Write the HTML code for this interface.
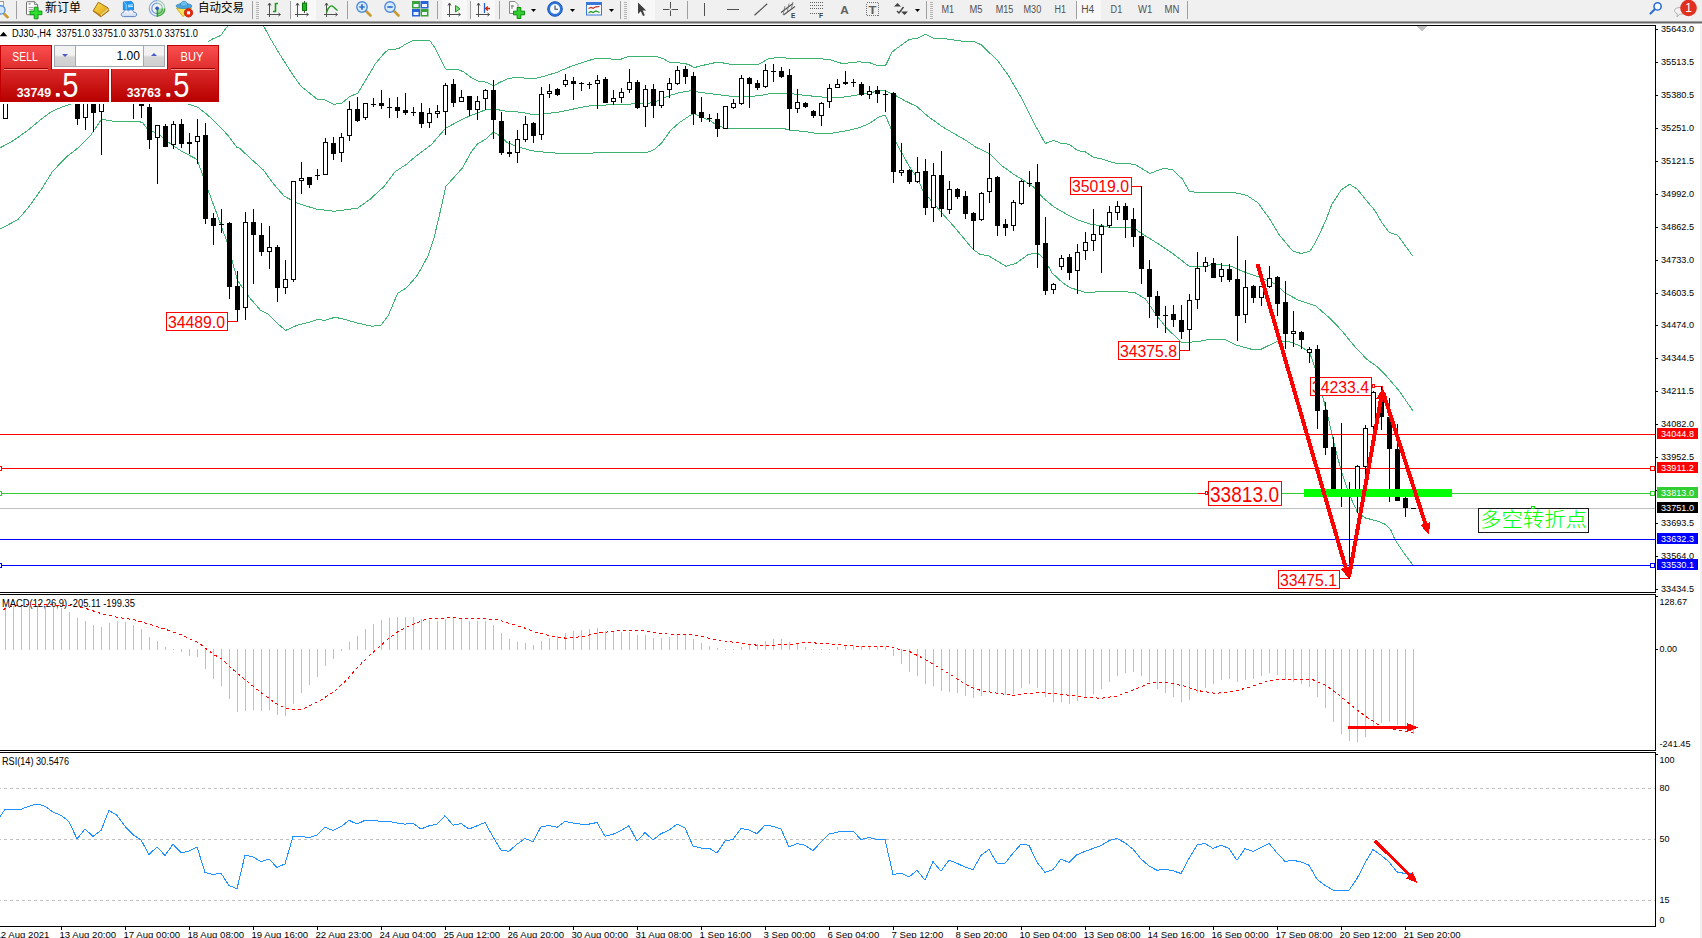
<!DOCTYPE html><html><head><meta charset="utf-8"><title>DJ30 H4</title><style>
html,body{margin:0;padding:0;background:#fff;}
body{width:1702px;height:938px;overflow:hidden;position:relative;font-family:"Liberation Sans","Noto Sans CJK SC",sans-serif;}
svg{position:absolute;left:0;top:0;font-family:"Liberation Sans","Noto Sans CJK SC",sans-serif;}
#chart{z-index:1}
#tbs{z-index:3}
#tp{position:absolute;left:0;top:0;width:230px;height:110px;z-index:4}
#tps{z-index:5}
.wm{position:absolute;left:0;top:43px;width:221px;height:61px;background:#fff}
.wbg{position:absolute;left:52px;top:45px;width:115px;height:24px;background:#fff}
.redl,.redr,.tab{position:absolute;box-sizing:border-box;border:1px solid #c00000;}
.redl{left:0;top:69px;width:109px;height:33px;background:linear-gradient(#dc2a2a,#b80000);border-top:none}
.redr{left:111px;top:69px;width:108px;height:33px;background:linear-gradient(#dc2a2a,#b80000);border-top:none}
.tab.sell{left:0;top:45px;width:52px;height:25px;background:linear-gradient(#fa4e4e,#de2c2c);border-bottom:none}
.tab.buy{left:167px;top:45px;width:52px;height:25px;background:linear-gradient(#fa4e4e,#de2c2c);border-bottom:none}
.spin{position:absolute;left:54px;top:45px;width:111px;height:22px;box-sizing:border-box;border:1px solid #a3a9b3;background:#fff}
.sb{position:absolute;top:0;width:20px;height:20px;background:linear-gradient(#f2f2f2 45%,#d6d6d6 55%,#cfcfcf);}
.sb.l{left:0;border-right:1px solid #a3a9b3}.sb.r{right:0;border-left:1px solid #a3a9b3}
.sb i{position:absolute;left:7px;top:8px;width:0;height:0;border-left:3px solid transparent;border-right:3px solid transparent}
.sb i.dn{border-top:3px solid #4a5ac8}.sb i.up{border-bottom:3px solid #4a5ac8;top:7px}
</style></head><body>
<svg id="chart" width="1702" height="938" viewBox="0 0 1702 938">
<g shape-rendering="crispEdges">
<rect x="0" y="25" width="1656" height="1" fill="#000"/>
<rect x="1655" y="25" width="1" height="568" fill="#000"/>
<rect x="0" y="592" width="1656" height="1" fill="#000"/>
<rect x="0" y="594" width="1656" height="1" fill="#000"/>
<rect x="1655" y="594" width="1" height="157" fill="#000"/>
<rect x="0" y="750" width="1656" height="1" fill="#000"/>
<rect x="0" y="752" width="1656" height="1" fill="#000"/>
<rect x="1655" y="752" width="1" height="175" fill="#000"/>
<rect x="0" y="926" width="1656" height="1" fill="#000"/>
<rect x="1700" y="25" width="2" height="913" fill="#f0f0f0"/>
<polygon points="1416,26 1427,26 1421.5,31.5" fill="#c0c0c0"/>
<rect x="1656" y="29" width="2" height="1" fill="#000"/>
<rect x="1656" y="62" width="2" height="1" fill="#000"/>
<rect x="1656" y="95" width="2" height="1" fill="#000"/>
<rect x="1656" y="128" width="2" height="1" fill="#000"/>
<rect x="1656" y="161" width="2" height="1" fill="#000"/>
<rect x="1656" y="194" width="2" height="1" fill="#000"/>
<rect x="1656" y="227" width="2" height="1" fill="#000"/>
<rect x="1656" y="260" width="2" height="1" fill="#000"/>
<rect x="1656" y="293" width="2" height="1" fill="#000"/>
<rect x="1656" y="325" width="2" height="1" fill="#000"/>
<rect x="1656" y="358" width="2" height="1" fill="#000"/>
<rect x="1656" y="391" width="2" height="1" fill="#000"/>
<rect x="1656" y="424" width="2" height="1" fill="#000"/>
<rect x="1656" y="457" width="2" height="1" fill="#000"/>
<rect x="1656" y="490" width="2" height="1" fill="#000"/>
<rect x="1656" y="523" width="2" height="1" fill="#000"/>
<rect x="1656" y="556" width="2" height="1" fill="#000"/>
<rect x="1656" y="589" width="2" height="1" fill="#000"/>
<rect x="1656" y="649" width="2" height="1" fill="#000"/>
<rect x="1656" y="596" width="2" height="1" fill="#000"/>
<rect x="1656" y="754" width="2" height="1" fill="#000"/>
<rect x="61" y="926" width="1" height="4" fill="#000"/>
<rect x="125" y="926" width="1" height="4" fill="#000"/>
<rect x="189" y="926" width="1" height="4" fill="#000"/>
<rect x="253" y="926" width="1" height="4" fill="#000"/>
<rect x="317" y="926" width="1" height="4" fill="#000"/>
<rect x="381" y="926" width="1" height="4" fill="#000"/>
<rect x="445" y="926" width="1" height="4" fill="#000"/>
<rect x="509" y="926" width="1" height="4" fill="#000"/>
<rect x="573" y="926" width="1" height="4" fill="#000"/>
<rect x="637" y="926" width="1" height="4" fill="#000"/>
<rect x="701" y="926" width="1" height="4" fill="#000"/>
<rect x="765" y="926" width="1" height="4" fill="#000"/>
<rect x="829" y="926" width="1" height="4" fill="#000"/>
<rect x="893" y="926" width="1" height="4" fill="#000"/>
<rect x="957" y="926" width="1" height="4" fill="#000"/>
<rect x="1021" y="926" width="1" height="4" fill="#000"/>
<rect x="1085" y="926" width="1" height="4" fill="#000"/>
<rect x="1149" y="926" width="1" height="4" fill="#000"/>
<rect x="1213" y="926" width="1" height="4" fill="#000"/>
<rect x="1277" y="926" width="1" height="4" fill="#000"/>
<rect x="1341" y="926" width="1" height="4" fill="#000"/>
<rect x="1405" y="926" width="1" height="4" fill="#000"/>
<polyline points="207.5,42.3 211.8,39.3 220.9,35.4 223.8,31.1 227.6,26.0" fill="none" stroke="#3cb371" stroke-width="1"/>
<polyline points="263.6,26.0 270.8,39.3 279.4,53.7 290.9,71.9 300.5,85.8 317.2,99.3 324.4,99.7 333.5,104.4 341.7,103.3 349.8,96.6 358.0,93.0 366.1,79.4 375.2,64.0 384.3,53.1 388.8,49.5 397.9,48.9 406.0,44.0 413.3,40.4 429.6,40.4 435.0,47.7 440.4,58.5 445.5,69.0 458.6,69.8 464.0,72.1 471.3,77.6 478.5,81.2 485.8,82.1 493.6,85.7 500.3,82.1 507.5,78.8 514.8,77.6 520.0,77.5 532.7,79.0 543.6,76.3 556.3,72.6 568.9,67.2 583.4,62.1 597.0,58.1 610.6,59.0 621.5,59.0 628.8,56.3 655.9,56.3 663.2,58.7 669.5,62.3 683.1,63.2 688.6,64.5 694.4,67.6 701.3,65.7 717.6,62.1 724.8,63.2 733.9,65.0 746.6,64.1 750.0,64.5 757.3,65.0 768.1,59.0 779.0,57.2 795.3,59.0 811.6,58.1 829.8,59.6 842.4,63.6 858.8,61.8 869.6,62.7 876.4,65.2 885.7,65.2 892.1,52.1 895.8,49.1 909.3,39.4 917.5,38.2 925.7,34.2 933.1,38.2 945.1,38.7 963.0,41.3 974.2,41.6 980.9,44.6 997.3,60.3 1007.8,74.5 1020.4,96.1 1033.1,121.5 1045.3,143.5 1053.5,140.3 1060.6,143.2 1069.4,144.3 1077.6,150.6 1085.2,151.7 1093.5,157.4 1101.1,158.8 1109.3,161.5 1116.4,163.3 1128.1,163.5 1135.2,164.7 1149.9,173.5 1157.5,170.5 1164.6,168.2 1172.8,170.0 1182.2,178.8 1189.2,191.1 1195.1,192.3 1232.4,192.2 1246.9,195.4 1257.8,202.7 1268.6,217.2 1279.5,235.3 1290.0,247.8 1293.1,251.3 1301.0,253.4 1309.9,251.3 1315.6,242.1 1325.5,221.2 1331.8,204.5 1341.2,189.9 1349.6,184.3 1356.9,188.8 1366.3,200.3 1374.6,210.2 1381.9,222.8 1389.3,232.4 1397.6,235.3 1404.9,245.2 1412.8,256.2" fill="none" stroke="#3cb371" stroke-width="1"/>
<polyline points="0.0,147.9 14.1,140.1 28.2,130.0 42.3,118.3 52.2,111.2 62.0,107.0 70.5,104.2 80.0,100.5" fill="none" stroke="#3cb371" stroke-width="1"/>
<polyline points="180.0,100.5 188.2,104.2 197.4,107.0 207.3,114.7 218.6,125.3 228.4,135.9 236.9,147.2 240.0,148.6 250.0,158.0 263.4,170.0 272.5,182.7 284.3,196.3 297.9,203.5 316.0,209.0 334.1,211.3 357.7,208.1 370.4,199.0 375.2,194.5 384.3,186.3 395.1,171.8 406.0,164.6 416.9,155.5 431.4,144.6 445.5,128.3 460.4,120.2 471.3,115.3 485.8,109.8 493.6,108.9 507.5,111.5 520.0,112.1 534.5,114.9 543.6,113.8 556.3,112.5 572.6,109.2 587.1,106.2 597.9,105.3 614.3,104.7 636.0,103.8 646.9,104.0 657.8,100.7 670.4,95.3 679.5,92.6 690.4,90.8 701.3,92.6 715.8,94.4 730.3,96.2 744.8,96.7 750.0,96.7 760.9,95.3 773.6,93.1 789.9,93.5 804.4,95.3 822.5,97.1 840.6,97.6 855.1,95.3 869.6,92.6 884.1,90.4 893.6,94.4 904.1,100.4 916.8,106.5 927.6,116.1 942.1,126.6 958.4,136.1 965.3,140.0 976.1,147.3 989.5,153.6 1001.5,165.4 1012.4,173.5 1021.4,179.0 1034.1,187.5 1043.2,198.0 1054.1,207.1 1066.8,214.3 1077.6,219.8 1092.1,224.6 1101.6,225.6 1110.3,227.4 1120.0,227.2 1134.5,228.1 1141.6,233.5 1156.3,242.6 1172.6,253.4 1188.9,266.1 1197.9,267.0 1214.3,264.3 1230.6,266.1 1243.3,271.6 1261.4,277.9 1275.9,284.3 1285.5,293.3 1299.4,300.6 1315.8,306.0 1330.3,318.7 1341.2,330.0 1354.6,346.4 1366.6,359.1 1377.0,366.6 1386.0,375.5 1399.4,391.2 1412.8,410.6" fill="none" stroke="#3cb371" stroke-width="1"/>
<polyline points="0.0,229.0 7.0,225.5 18.3,219.1 28.2,207.8 42.3,188.0 52.2,171.8 66.3,157.0 79.0,147.2 90.2,135.9 101.5,119.3 114.2,121.4 138.2,121.4 142.4,122.5 147.3,128.8 153.7,131.9 160.7,135.9 169.2,142.9 181.9,151.4 196.7,159.2 203.0,175.4 207.3,188.1 218.1,217.1 227.2,242.5 232.6,262.4 237.5,280.6 243.5,288.7 248.9,296.9 260.7,310.5 268.0,314.1 276.1,322.3 285.6,330.4 297.9,325.0 308.8,322.3 317.8,319.5 325.1,320.4 335.0,317.2 345.0,319.5 357.7,323.2 372.2,326.2 381.3,325.0 388.5,315.0 397.6,293.3 406.6,287.8 417.5,275.1 428.4,255.2 433.8,238.9 440.0,212.6 444.1,194.5 445.9,186.3 455.0,176.3 462.2,168.2 471.3,151.9 477.6,143.7 485.8,139.2 493.6,131.9 502.1,137.4 507.5,142.8 520.0,147.5 532.7,150.9 547.2,152.4 563.5,153.6 576.2,153.6 601.6,152.7 625.1,152.0 636.0,152.7 646.9,152.4 654.1,149.7 661.4,143.3 670.4,130.6 679.5,122.5 690.4,115.2 693.6,113.4 701.3,117.0 710.3,120.7 717.6,126.1 728.4,128.3 760.0,128.3 782.6,128.3 789.9,130.1 804.4,131.5 818.9,133.7 831.6,133.3 847.9,130.6 858.8,127.9 869.6,123.4 878.7,117.0 885.4,115.2 889.6,125.2 895.0,140.6 901.5,152.4 909.5,166.9 918.1,179.0 923.6,192.6 929.0,198.0 941.5,212.5 954.4,227.0 967.1,242.4 973.4,249.7 979.8,254.2 988.8,256.0 997.9,261.4 1006.0,266.3 1016.0,263.3 1028.7,254.2 1037.8,253.3 1043.2,257.8 1052.3,273.2 1063.1,283.2 1070.4,287.7 1084.9,292.3 1099.4,291.9 1113.9,291.0 1120.0,291.5 1134.5,292.4 1145.4,298.8 1156.3,315.1 1167.1,328.7 1181.6,342.3 1196.1,341.9 1208.8,339.5 1225.1,339.5 1236.0,345.0 1252.3,349.5 1261.4,349.1 1275.9,341.9 1288.6,341.4 1299.4,345.7 1309.6,352.4 1315.8,370.3 1323.3,398.7 1329.3,422.5 1335.2,447.9 1341.2,470.9 1349.4,494.8 1357.6,512.7 1365.1,517.9 1377.0,520.9 1384.5,523.9 1390.4,529.1 1394.9,539.6 1403.9,553.0 1412.8,564.9" fill="none" stroke="#3cb371" stroke-width="1"/>
<rect x="0" y="434" width="1655" height="1" fill="#ff0000"/>
<rect x="0" y="468" width="1655" height="1" fill="#ff0000"/>
<rect x="0" y="493" width="1655" height="1" fill="#32cd32"/>
<rect x="0" y="508" width="1655" height="1" fill="#c0c0c0"/>
<rect x="0" y="539" width="1655" height="1" fill="#0000ff"/>
<rect x="0" y="565" width="1655" height="1" fill="#0000ff"/>
<rect x="1650" y="466" width="5" height="5" fill="#fff" stroke="none"/>
<rect x="1650" y="466" width="5" height="1" fill="#ff0000"/><rect x="1650" y="470" width="5" height="1" fill="#ff0000"/><rect x="1650" y="466" width="1" height="5" fill="#ff0000"/><rect x="1654" y="466" width="1" height="5" fill="#ff0000"/>
<rect x="-3" y="466" width="5" height="5" fill="#fff" stroke="none"/>
<rect x="-3" y="466" width="5" height="1" fill="#ff0000"/><rect x="-3" y="470" width="5" height="1" fill="#ff0000"/><rect x="-3" y="466" width="1" height="5" fill="#ff0000"/><rect x="1" y="466" width="1" height="5" fill="#ff0000"/>
<rect x="1650" y="491" width="5" height="5" fill="#fff" stroke="none"/>
<rect x="1650" y="491" width="5" height="1" fill="#32cd32"/><rect x="1650" y="495" width="5" height="1" fill="#32cd32"/><rect x="1650" y="491" width="1" height="5" fill="#32cd32"/><rect x="1654" y="491" width="1" height="5" fill="#32cd32"/>
<rect x="-3" y="491" width="5" height="5" fill="#fff" stroke="none"/>
<rect x="-3" y="491" width="5" height="1" fill="#32cd32"/><rect x="-3" y="495" width="5" height="1" fill="#32cd32"/><rect x="-3" y="491" width="1" height="5" fill="#32cd32"/><rect x="1" y="491" width="1" height="5" fill="#32cd32"/>
<rect x="1650" y="563" width="5" height="5" fill="#fff" stroke="none"/>
<rect x="1650" y="563" width="5" height="1" fill="#0000ff"/><rect x="1650" y="567" width="5" height="1" fill="#0000ff"/><rect x="1650" y="563" width="1" height="5" fill="#0000ff"/><rect x="1654" y="563" width="1" height="5" fill="#0000ff"/>
<rect x="-3" y="563" width="5" height="5" fill="#fff" stroke="none"/>
<rect x="-3" y="563" width="5" height="1" fill="#0000ff"/><rect x="-3" y="567" width="5" height="1" fill="#0000ff"/><rect x="-3" y="563" width="1" height="5" fill="#0000ff"/><rect x="1" y="563" width="1" height="5" fill="#0000ff"/>
<rect x="166.5" y="312.5" width="61" height="18" fill="#fff" stroke="#ff0000" stroke-width="1" shape-rendering="crispEdges"/>
<text x="168" y="327.5" font-size="17" fill="#ff0000" textLength="57" lengthAdjust="spacingAndGlyphs">34489.0</text>
<polyline points="227,321.5 237.5,321.5 237.5,310" fill="none" stroke="#ff0000" stroke-width="1" shape-rendering="crispEdges"/>
<rect x="1070.5" y="177.5" width="61" height="17" fill="#fff" stroke="#ff0000" stroke-width="1" shape-rendering="crispEdges"/>
<text x="1072" y="191.5" font-size="17" fill="#ff0000" textLength="57" lengthAdjust="spacingAndGlyphs">35019.0</text>
<polyline points="1131,186.5 1141.5,186.5" fill="none" stroke="#ff0000" stroke-width="1" shape-rendering="crispEdges"/>
<rect x="1118.5" y="341.5" width="61" height="18" fill="#fff" stroke="#ff0000" stroke-width="1" shape-rendering="crispEdges"/>
<text x="1120" y="356.5" font-size="17" fill="#ff0000" textLength="57" lengthAdjust="spacingAndGlyphs">34375.8</text>
<polyline points="1179,350.5 1189.5,350.5 1189.5,331" fill="none" stroke="#ff0000" stroke-width="1" shape-rendering="crispEdges"/>
<rect x="1310.5" y="377.5" width="61" height="18" fill="#fff" stroke="#ff0000" stroke-width="1" shape-rendering="crispEdges"/>
<text x="1312" y="392.5" font-size="17" fill="#ff0000" textLength="57" lengthAdjust="spacingAndGlyphs">34233.4</text>
<polyline points="1371,386.5 1382.5,386.5 1382.5,392" fill="none" stroke="#ff0000" stroke-width="1" shape-rendering="crispEdges"/>
<rect x="1278.5" y="570.5" width="61" height="18" fill="#fff" stroke="#ff0000" stroke-width="1" shape-rendering="crispEdges"/>
<text x="1280" y="585.5" font-size="17" fill="#ff0000" textLength="57" lengthAdjust="spacingAndGlyphs">33475.1</text>
<polyline points="1339,578.5 1349.5,578.5" fill="none" stroke="#ff0000" stroke-width="1" shape-rendering="crispEdges"/>
<rect x="1208.5" y="481.5" width="73" height="24" fill="#fff" stroke="#ff0000" stroke-width="1" shape-rendering="crispEdges"/>
<text x="1210" y="501.8" font-size="22" fill="#ff0000" textLength="69" lengthAdjust="spacingAndGlyphs">33813.0</text>
<rect x="1198" y="493" width="8" height="1" fill="#ff0000" shape-rendering="crispEdges"/>
<rect x="1205.5" y="491.5" width="2" height="3" fill="#fff" stroke="#ff0000" stroke-width="1" shape-rendering="crispEdges"/>
<rect x="1372.5" y="384.5" width="2" height="3" fill="#fff" stroke="#ff0000" stroke-width="1" shape-rendering="crispEdges"/>
<rect x="5" y="60" width="1" height="59" fill="#000"/>
<rect x="3" y="60" width="5" height="59" fill="#000"/>
<rect x="4" y="61" width="3" height="57" fill="#fff"/>
<rect x="77" y="60" width="1" height="65" fill="#000"/>
<rect x="75" y="60" width="5" height="59" fill="#000"/>
<rect x="85" y="60" width="1" height="70" fill="#000"/>
<rect x="83" y="60" width="5" height="58" fill="#000"/>
<rect x="84" y="61" width="3" height="56" fill="#fff"/>
<rect x="93" y="60" width="1" height="72" fill="#000"/>
<rect x="91" y="60" width="5" height="53" fill="#000"/>
<rect x="101" y="60" width="1" height="95" fill="#000"/>
<rect x="99" y="60" width="5" height="52" fill="#000"/>
<rect x="100" y="61" width="3" height="50" fill="#fff"/>
<rect x="133" y="60" width="1" height="59" fill="#000"/>
<rect x="131" y="60" width="5" height="1" fill="#000"/>
<rect x="141" y="60" width="1" height="58" fill="#000"/>
<rect x="139" y="60" width="5" height="46" fill="#000"/>
<rect x="149" y="60" width="1" height="89" fill="#000"/>
<rect x="147" y="107" width="5" height="33" fill="#000"/>
<rect x="157" y="125" width="1" height="59" fill="#000"/>
<rect x="155" y="125" width="5" height="13" fill="#000"/>
<rect x="156" y="126" width="3" height="11" fill="#fff"/>
<rect x="165" y="124" width="1" height="23" fill="#000"/>
<rect x="163" y="126" width="5" height="21" fill="#000"/>
<rect x="173" y="121" width="1" height="28" fill="#000"/>
<rect x="171" y="124" width="5" height="21" fill="#000"/>
<rect x="172" y="125" width="3" height="19" fill="#fff"/>
<rect x="181" y="119" width="1" height="29" fill="#000"/>
<rect x="179" y="124" width="5" height="20" fill="#000"/>
<rect x="189" y="133" width="1" height="21" fill="#000"/>
<rect x="187" y="142" width="5" height="2" fill="#000"/>
<rect x="197" y="119" width="1" height="45" fill="#000"/>
<rect x="195" y="136" width="5" height="6" fill="#000"/>
<rect x="196" y="137" width="3" height="4" fill="#fff"/>
<rect x="205" y="123" width="1" height="101" fill="#000"/>
<rect x="203" y="135" width="5" height="84" fill="#000"/>
<rect x="213" y="213" width="1" height="32" fill="#000"/>
<rect x="211" y="218" width="5" height="8" fill="#000"/>
<rect x="221" y="209" width="1" height="24" fill="#000"/>
<rect x="219" y="224" width="5" height="1" fill="#000"/>
<rect x="229" y="222" width="1" height="77" fill="#000"/>
<rect x="227" y="223" width="5" height="64" fill="#000"/>
<rect x="237" y="271" width="1" height="50" fill="#000"/>
<rect x="235" y="286" width="5" height="24" fill="#000"/>
<rect x="245" y="212" width="1" height="108" fill="#000"/>
<rect x="243" y="222" width="5" height="86" fill="#000"/>
<rect x="244" y="223" width="3" height="84" fill="#fff"/>
<rect x="253" y="209" width="1" height="75" fill="#000"/>
<rect x="251" y="222" width="5" height="13" fill="#000"/>
<rect x="261" y="223" width="1" height="33" fill="#000"/>
<rect x="259" y="235" width="5" height="17" fill="#000"/>
<rect x="269" y="226" width="1" height="43" fill="#000"/>
<rect x="267" y="247" width="5" height="5" fill="#000"/>
<rect x="268" y="248" width="3" height="3" fill="#fff"/>
<rect x="277" y="245" width="1" height="57" fill="#000"/>
<rect x="275" y="247" width="5" height="41" fill="#000"/>
<rect x="285" y="260" width="1" height="34" fill="#000"/>
<rect x="283" y="279" width="5" height="9" fill="#000"/>
<rect x="284" y="280" width="3" height="7" fill="#fff"/>
<rect x="293" y="181" width="1" height="101" fill="#000"/>
<rect x="291" y="181" width="5" height="99" fill="#000"/>
<rect x="292" y="182" width="3" height="97" fill="#fff"/>
<rect x="301" y="162" width="1" height="32" fill="#000"/>
<rect x="299" y="178" width="5" height="3" fill="#000"/>
<rect x="300" y="179" width="3" height="1" fill="#fff"/>
<rect x="309" y="177" width="1" height="11" fill="#000"/>
<rect x="307" y="177" width="5" height="8" fill="#000"/>
<rect x="317" y="169" width="1" height="11" fill="#000"/>
<rect x="315" y="175" width="5" height="1" fill="#000"/>
<rect x="325" y="138" width="1" height="37" fill="#000"/>
<rect x="323" y="142" width="5" height="33" fill="#000"/>
<rect x="324" y="143" width="3" height="31" fill="#fff"/>
<rect x="333" y="137" width="1" height="23" fill="#000"/>
<rect x="331" y="143" width="5" height="11" fill="#000"/>
<rect x="341" y="133" width="1" height="29" fill="#000"/>
<rect x="339" y="137" width="5" height="16" fill="#000"/>
<rect x="340" y="138" width="3" height="14" fill="#fff"/>
<rect x="349" y="101" width="1" height="40" fill="#000"/>
<rect x="347" y="109" width="5" height="27" fill="#000"/>
<rect x="348" y="110" width="3" height="25" fill="#fff"/>
<rect x="357" y="97" width="1" height="25" fill="#000"/>
<rect x="355" y="109" width="5" height="12" fill="#000"/>
<rect x="365" y="103" width="1" height="17" fill="#000"/>
<rect x="363" y="103" width="5" height="15" fill="#000"/>
<rect x="364" y="104" width="3" height="13" fill="#fff"/>
<rect x="373" y="98" width="1" height="9" fill="#000"/>
<rect x="371" y="104" width="5" height="1" fill="#000"/>
<rect x="381" y="90" width="1" height="19" fill="#000"/>
<rect x="379" y="103" width="5" height="3" fill="#000"/>
<rect x="389" y="98" width="1" height="20" fill="#000"/>
<rect x="387" y="107" width="5" height="1" fill="#000"/>
<rect x="397" y="97" width="1" height="21" fill="#000"/>
<rect x="395" y="107" width="5" height="4" fill="#000"/>
<rect x="405" y="93" width="1" height="22" fill="#000"/>
<rect x="403" y="110" width="5" height="3" fill="#000"/>
<rect x="413" y="107" width="1" height="9" fill="#000"/>
<rect x="411" y="112" width="5" height="1" fill="#000"/>
<rect x="421" y="103" width="1" height="25" fill="#000"/>
<rect x="419" y="112" width="5" height="12" fill="#000"/>
<rect x="429" y="108" width="1" height="20" fill="#000"/>
<rect x="427" y="113" width="5" height="10" fill="#000"/>
<rect x="428" y="114" width="3" height="8" fill="#fff"/>
<rect x="437" y="105" width="1" height="13" fill="#000"/>
<rect x="435" y="111" width="5" height="3" fill="#000"/>
<rect x="436" y="112" width="3" height="1" fill="#fff"/>
<rect x="445" y="83" width="1" height="52" fill="#000"/>
<rect x="443" y="85" width="5" height="27" fill="#000"/>
<rect x="444" y="86" width="3" height="25" fill="#fff"/>
<rect x="453" y="79" width="1" height="28" fill="#000"/>
<rect x="451" y="84" width="5" height="19" fill="#000"/>
<rect x="461" y="90" width="1" height="12" fill="#000"/>
<rect x="459" y="97" width="5" height="5" fill="#000"/>
<rect x="460" y="98" width="3" height="3" fill="#fff"/>
<rect x="469" y="96" width="1" height="20" fill="#000"/>
<rect x="467" y="96" width="5" height="14" fill="#000"/>
<rect x="477" y="96" width="1" height="24" fill="#000"/>
<rect x="475" y="101" width="5" height="9" fill="#000"/>
<rect x="476" y="102" width="3" height="7" fill="#fff"/>
<rect x="485" y="89" width="1" height="21" fill="#000"/>
<rect x="483" y="90" width="5" height="9" fill="#000"/>
<rect x="484" y="91" width="3" height="7" fill="#fff"/>
<rect x="493" y="80" width="1" height="59" fill="#000"/>
<rect x="491" y="90" width="5" height="30" fill="#000"/>
<rect x="501" y="112" width="1" height="43" fill="#000"/>
<rect x="499" y="121" width="5" height="32" fill="#000"/>
<rect x="509" y="141" width="1" height="16" fill="#000"/>
<rect x="507" y="152" width="5" height="2" fill="#000"/>
<rect x="517" y="130" width="1" height="33" fill="#000"/>
<rect x="515" y="139" width="5" height="14" fill="#000"/>
<rect x="516" y="140" width="3" height="12" fill="#fff"/>
<rect x="525" y="116" width="1" height="26" fill="#000"/>
<rect x="523" y="124" width="5" height="16" fill="#000"/>
<rect x="524" y="125" width="3" height="14" fill="#fff"/>
<rect x="533" y="122" width="1" height="21" fill="#000"/>
<rect x="531" y="123" width="5" height="13" fill="#000"/>
<rect x="541" y="87" width="1" height="53" fill="#000"/>
<rect x="539" y="94" width="5" height="41" fill="#000"/>
<rect x="540" y="95" width="3" height="39" fill="#fff"/>
<rect x="549" y="84" width="1" height="14" fill="#000"/>
<rect x="547" y="91" width="5" height="3" fill="#000"/>
<rect x="548" y="92" width="3" height="1" fill="#fff"/>
<rect x="557" y="88" width="1" height="8" fill="#000"/>
<rect x="555" y="89" width="5" height="6" fill="#000"/>
<rect x="565" y="74" width="1" height="13" fill="#000"/>
<rect x="563" y="80" width="5" height="5" fill="#000"/>
<rect x="564" y="81" width="3" height="3" fill="#fff"/>
<rect x="573" y="77" width="1" height="23" fill="#000"/>
<rect x="571" y="81" width="5" height="3" fill="#000"/>
<rect x="581" y="82" width="1" height="9" fill="#000"/>
<rect x="579" y="83" width="5" height="1" fill="#000"/>
<rect x="589" y="82" width="1" height="7" fill="#000"/>
<rect x="587" y="84" width="5" height="1" fill="#000"/>
<rect x="597" y="75" width="1" height="34" fill="#000"/>
<rect x="595" y="80" width="5" height="4" fill="#000"/>
<rect x="596" y="81" width="3" height="2" fill="#fff"/>
<rect x="605" y="77" width="1" height="26" fill="#000"/>
<rect x="603" y="79" width="5" height="24" fill="#000"/>
<rect x="613" y="90" width="1" height="15" fill="#000"/>
<rect x="611" y="98" width="5" height="4" fill="#000"/>
<rect x="612" y="99" width="3" height="2" fill="#fff"/>
<rect x="621" y="88" width="1" height="15" fill="#000"/>
<rect x="619" y="92" width="5" height="6" fill="#000"/>
<rect x="620" y="93" width="3" height="4" fill="#fff"/>
<rect x="629" y="69" width="1" height="24" fill="#000"/>
<rect x="627" y="82" width="5" height="8" fill="#000"/>
<rect x="628" y="83" width="3" height="6" fill="#fff"/>
<rect x="637" y="80" width="1" height="29" fill="#000"/>
<rect x="635" y="82" width="5" height="26" fill="#000"/>
<rect x="645" y="85" width="1" height="42" fill="#000"/>
<rect x="643" y="89" width="5" height="18" fill="#000"/>
<rect x="644" y="90" width="3" height="16" fill="#fff"/>
<rect x="653" y="84" width="1" height="34" fill="#000"/>
<rect x="651" y="89" width="5" height="17" fill="#000"/>
<rect x="661" y="91" width="1" height="17" fill="#000"/>
<rect x="659" y="91" width="5" height="15" fill="#000"/>
<rect x="660" y="92" width="3" height="13" fill="#fff"/>
<rect x="669" y="78" width="1" height="20" fill="#000"/>
<rect x="667" y="83" width="5" height="7" fill="#000"/>
<rect x="668" y="84" width="3" height="5" fill="#fff"/>
<rect x="677" y="66" width="1" height="19" fill="#000"/>
<rect x="675" y="70" width="5" height="14" fill="#000"/>
<rect x="676" y="71" width="3" height="12" fill="#fff"/>
<rect x="685" y="66" width="1" height="18" fill="#000"/>
<rect x="683" y="69" width="5" height="8" fill="#000"/>
<rect x="693" y="72" width="1" height="53" fill="#000"/>
<rect x="691" y="76" width="5" height="38" fill="#000"/>
<rect x="701" y="97" width="1" height="25" fill="#000"/>
<rect x="699" y="112" width="5" height="6" fill="#000"/>
<rect x="709" y="114" width="1" height="8" fill="#000"/>
<rect x="707" y="118" width="5" height="1" fill="#000"/>
<rect x="717" y="113" width="1" height="24" fill="#000"/>
<rect x="715" y="119" width="5" height="10" fill="#000"/>
<rect x="725" y="106" width="1" height="23" fill="#000"/>
<rect x="723" y="106" width="5" height="23" fill="#000"/>
<rect x="724" y="107" width="3" height="21" fill="#fff"/>
<rect x="733" y="99" width="1" height="10" fill="#000"/>
<rect x="731" y="103" width="5" height="5" fill="#000"/>
<rect x="732" y="104" width="3" height="3" fill="#fff"/>
<rect x="741" y="75" width="1" height="30" fill="#000"/>
<rect x="739" y="78" width="5" height="26" fill="#000"/>
<rect x="740" y="79" width="3" height="24" fill="#fff"/>
<rect x="749" y="77" width="1" height="31" fill="#000"/>
<rect x="747" y="78" width="5" height="6" fill="#000"/>
<rect x="757" y="80" width="1" height="10" fill="#000"/>
<rect x="755" y="83" width="5" height="5" fill="#000"/>
<rect x="765" y="64" width="1" height="24" fill="#000"/>
<rect x="763" y="70" width="5" height="17" fill="#000"/>
<rect x="764" y="71" width="3" height="15" fill="#fff"/>
<rect x="773" y="64" width="1" height="18" fill="#000"/>
<rect x="771" y="71" width="5" height="1" fill="#000"/>
<rect x="781" y="67" width="1" height="11" fill="#000"/>
<rect x="779" y="71" width="5" height="6" fill="#000"/>
<rect x="789" y="69" width="1" height="61" fill="#000"/>
<rect x="787" y="75" width="5" height="34" fill="#000"/>
<rect x="797" y="89" width="1" height="24" fill="#000"/>
<rect x="795" y="102" width="5" height="7" fill="#000"/>
<rect x="796" y="103" width="3" height="5" fill="#fff"/>
<rect x="805" y="102" width="1" height="6" fill="#000"/>
<rect x="803" y="103" width="5" height="4" fill="#000"/>
<rect x="813" y="110" width="1" height="8" fill="#000"/>
<rect x="811" y="111" width="5" height="5" fill="#000"/>
<rect x="821" y="102" width="1" height="24" fill="#000"/>
<rect x="819" y="103" width="5" height="13" fill="#000"/>
<rect x="820" y="104" width="3" height="11" fill="#fff"/>
<rect x="829" y="84" width="1" height="24" fill="#000"/>
<rect x="827" y="88" width="5" height="14" fill="#000"/>
<rect x="828" y="89" width="3" height="12" fill="#fff"/>
<rect x="837" y="79" width="1" height="9" fill="#000"/>
<rect x="835" y="84" width="5" height="4" fill="#000"/>
<rect x="836" y="85" width="3" height="2" fill="#fff"/>
<rect x="845" y="71" width="1" height="14" fill="#000"/>
<rect x="843" y="82" width="5" height="2" fill="#000"/>
<rect x="853" y="79" width="1" height="8" fill="#000"/>
<rect x="851" y="82" width="5" height="1" fill="#000"/>
<rect x="861" y="82" width="1" height="14" fill="#000"/>
<rect x="859" y="84" width="5" height="11" fill="#000"/>
<rect x="869" y="86" width="1" height="13" fill="#000"/>
<rect x="867" y="91" width="5" height="4" fill="#000"/>
<rect x="868" y="92" width="3" height="2" fill="#fff"/>
<rect x="877" y="86" width="1" height="17" fill="#000"/>
<rect x="875" y="90" width="5" height="4" fill="#000"/>
<rect x="885" y="90" width="1" height="22" fill="#000"/>
<rect x="883" y="94" width="5" height="1" fill="#000"/>
<rect x="893" y="92" width="1" height="91" fill="#000"/>
<rect x="891" y="93" width="5" height="79" fill="#000"/>
<rect x="901" y="143" width="1" height="33" fill="#000"/>
<rect x="899" y="170" width="5" height="3" fill="#000"/>
<rect x="900" y="171" width="3" height="1" fill="#fff"/>
<rect x="909" y="169" width="1" height="15" fill="#000"/>
<rect x="907" y="170" width="5" height="12" fill="#000"/>
<rect x="917" y="157" width="1" height="26" fill="#000"/>
<rect x="915" y="172" width="5" height="10" fill="#000"/>
<rect x="916" y="173" width="3" height="8" fill="#fff"/>
<rect x="925" y="159" width="1" height="56" fill="#000"/>
<rect x="923" y="171" width="5" height="37" fill="#000"/>
<rect x="933" y="163" width="1" height="59" fill="#000"/>
<rect x="931" y="175" width="5" height="33" fill="#000"/>
<rect x="932" y="176" width="3" height="31" fill="#fff"/>
<rect x="941" y="151" width="1" height="66" fill="#000"/>
<rect x="939" y="175" width="5" height="34" fill="#000"/>
<rect x="949" y="181" width="1" height="33" fill="#000"/>
<rect x="947" y="189" width="5" height="21" fill="#000"/>
<rect x="948" y="190" width="3" height="19" fill="#fff"/>
<rect x="957" y="188" width="1" height="11" fill="#000"/>
<rect x="955" y="189" width="5" height="8" fill="#000"/>
<rect x="965" y="191" width="1" height="28" fill="#000"/>
<rect x="963" y="196" width="5" height="18" fill="#000"/>
<rect x="973" y="212" width="1" height="38" fill="#000"/>
<rect x="971" y="213" width="5" height="8" fill="#000"/>
<rect x="981" y="192" width="1" height="29" fill="#000"/>
<rect x="979" y="193" width="5" height="27" fill="#000"/>
<rect x="980" y="194" width="3" height="25" fill="#fff"/>
<rect x="989" y="143" width="1" height="60" fill="#000"/>
<rect x="987" y="178" width="5" height="14" fill="#000"/>
<rect x="988" y="179" width="3" height="12" fill="#fff"/>
<rect x="997" y="176" width="1" height="60" fill="#000"/>
<rect x="995" y="177" width="5" height="49" fill="#000"/>
<rect x="1005" y="219" width="1" height="17" fill="#000"/>
<rect x="1003" y="224" width="5" height="4" fill="#000"/>
<rect x="1013" y="200" width="1" height="31" fill="#000"/>
<rect x="1011" y="202" width="5" height="24" fill="#000"/>
<rect x="1012" y="203" width="3" height="22" fill="#fff"/>
<rect x="1021" y="180" width="1" height="25" fill="#000"/>
<rect x="1019" y="181" width="5" height="23" fill="#000"/>
<rect x="1020" y="182" width="3" height="21" fill="#fff"/>
<rect x="1029" y="171" width="1" height="16" fill="#000"/>
<rect x="1027" y="183" width="5" height="1" fill="#000"/>
<rect x="1037" y="164" width="1" height="104" fill="#000"/>
<rect x="1035" y="182" width="5" height="63" fill="#000"/>
<rect x="1045" y="217" width="1" height="78" fill="#000"/>
<rect x="1043" y="243" width="5" height="48" fill="#000"/>
<rect x="1053" y="283" width="1" height="11" fill="#000"/>
<rect x="1051" y="284" width="5" height="6" fill="#000"/>
<rect x="1052" y="285" width="3" height="4" fill="#fff"/>
<rect x="1061" y="255" width="1" height="15" fill="#000"/>
<rect x="1059" y="258" width="5" height="9" fill="#000"/>
<rect x="1060" y="259" width="3" height="7" fill="#fff"/>
<rect x="1069" y="254" width="1" height="26" fill="#000"/>
<rect x="1067" y="257" width="5" height="16" fill="#000"/>
<rect x="1077" y="244" width="1" height="50" fill="#000"/>
<rect x="1075" y="252" width="5" height="19" fill="#000"/>
<rect x="1076" y="253" width="3" height="17" fill="#fff"/>
<rect x="1085" y="232" width="1" height="28" fill="#000"/>
<rect x="1083" y="242" width="5" height="9" fill="#000"/>
<rect x="1084" y="243" width="3" height="7" fill="#fff"/>
<rect x="1093" y="209" width="1" height="42" fill="#000"/>
<rect x="1091" y="234" width="5" height="7" fill="#000"/>
<rect x="1092" y="235" width="3" height="5" fill="#fff"/>
<rect x="1101" y="224" width="1" height="49" fill="#000"/>
<rect x="1099" y="226" width="5" height="9" fill="#000"/>
<rect x="1100" y="227" width="3" height="7" fill="#fff"/>
<rect x="1109" y="206" width="1" height="22" fill="#000"/>
<rect x="1107" y="212" width="5" height="14" fill="#000"/>
<rect x="1108" y="213" width="3" height="12" fill="#fff"/>
<rect x="1117" y="201" width="1" height="19" fill="#000"/>
<rect x="1115" y="206" width="5" height="7" fill="#000"/>
<rect x="1116" y="207" width="3" height="5" fill="#fff"/>
<rect x="1125" y="203" width="1" height="35" fill="#000"/>
<rect x="1123" y="206" width="5" height="14" fill="#000"/>
<rect x="1133" y="208" width="1" height="39" fill="#000"/>
<rect x="1131" y="219" width="5" height="18" fill="#000"/>
<rect x="1141" y="186" width="1" height="98" fill="#000"/>
<rect x="1139" y="236" width="5" height="33" fill="#000"/>
<rect x="1149" y="260" width="1" height="58" fill="#000"/>
<rect x="1147" y="269" width="5" height="28" fill="#000"/>
<rect x="1157" y="291" width="1" height="37" fill="#000"/>
<rect x="1155" y="296" width="5" height="20" fill="#000"/>
<rect x="1165" y="306" width="1" height="27" fill="#000"/>
<rect x="1163" y="315" width="5" height="1" fill="#000"/>
<rect x="1173" y="305" width="1" height="22" fill="#000"/>
<rect x="1171" y="314" width="5" height="6" fill="#000"/>
<rect x="1181" y="305" width="1" height="34" fill="#000"/>
<rect x="1179" y="320" width="5" height="12" fill="#000"/>
<rect x="1189" y="294" width="1" height="56" fill="#000"/>
<rect x="1187" y="300" width="5" height="30" fill="#000"/>
<rect x="1188" y="301" width="3" height="28" fill="#fff"/>
<rect x="1197" y="252" width="1" height="57" fill="#000"/>
<rect x="1195" y="268" width="5" height="32" fill="#000"/>
<rect x="1196" y="269" width="3" height="30" fill="#fff"/>
<rect x="1205" y="257" width="1" height="15" fill="#000"/>
<rect x="1203" y="262" width="5" height="5" fill="#000"/>
<rect x="1204" y="263" width="3" height="3" fill="#fff"/>
<rect x="1213" y="258" width="1" height="20" fill="#000"/>
<rect x="1211" y="263" width="5" height="15" fill="#000"/>
<rect x="1221" y="263" width="1" height="19" fill="#000"/>
<rect x="1219" y="269" width="5" height="8" fill="#000"/>
<rect x="1220" y="270" width="3" height="6" fill="#fff"/>
<rect x="1229" y="264" width="1" height="18" fill="#000"/>
<rect x="1227" y="269" width="5" height="11" fill="#000"/>
<rect x="1237" y="236" width="1" height="105" fill="#000"/>
<rect x="1235" y="279" width="5" height="37" fill="#000"/>
<rect x="1245" y="260" width="1" height="63" fill="#000"/>
<rect x="1243" y="287" width="5" height="28" fill="#000"/>
<rect x="1244" y="288" width="3" height="26" fill="#fff"/>
<rect x="1253" y="285" width="1" height="18" fill="#000"/>
<rect x="1251" y="286" width="5" height="12" fill="#000"/>
<rect x="1261" y="286" width="1" height="20" fill="#000"/>
<rect x="1259" y="286" width="5" height="12" fill="#000"/>
<rect x="1260" y="287" width="3" height="10" fill="#fff"/>
<rect x="1269" y="266" width="1" height="22" fill="#000"/>
<rect x="1267" y="278" width="5" height="9" fill="#000"/>
<rect x="1268" y="279" width="3" height="7" fill="#fff"/>
<rect x="1277" y="276" width="1" height="40" fill="#000"/>
<rect x="1275" y="277" width="5" height="27" fill="#000"/>
<rect x="1285" y="281" width="1" height="68" fill="#000"/>
<rect x="1283" y="302" width="5" height="32" fill="#000"/>
<rect x="1293" y="311" width="1" height="36" fill="#000"/>
<rect x="1291" y="331" width="5" height="3" fill="#000"/>
<rect x="1292" y="332" width="3" height="1" fill="#fff"/>
<rect x="1301" y="331" width="1" height="18" fill="#000"/>
<rect x="1299" y="332" width="5" height="8" fill="#000"/>
<rect x="1309" y="347" width="1" height="16" fill="#000"/>
<rect x="1307" y="349" width="5" height="4" fill="#000"/>
<rect x="1308" y="350" width="3" height="2" fill="#fff"/>
<rect x="1317" y="345" width="1" height="84" fill="#000"/>
<rect x="1315" y="349" width="5" height="62" fill="#000"/>
<rect x="1325" y="402" width="1" height="53" fill="#000"/>
<rect x="1323" y="410" width="5" height="38" fill="#000"/>
<rect x="1333" y="437" width="1" height="59" fill="#000"/>
<rect x="1331" y="447" width="5" height="49" fill="#000"/>
<rect x="1341" y="423" width="1" height="84" fill="#000"/>
<rect x="1339" y="493" width="5" height="2" fill="#000"/>
<rect x="1349" y="482" width="1" height="97" fill="#000"/>
<rect x="1347" y="492" width="5" height="3" fill="#000"/>
<rect x="1357" y="465" width="1" height="48" fill="#000"/>
<rect x="1355" y="466" width="5" height="28" fill="#000"/>
<rect x="1356" y="467" width="3" height="26" fill="#fff"/>
<rect x="1365" y="425" width="1" height="49" fill="#000"/>
<rect x="1363" y="428" width="5" height="39" fill="#000"/>
<rect x="1364" y="429" width="3" height="37" fill="#fff"/>
<rect x="1373" y="391" width="1" height="44" fill="#000"/>
<rect x="1371" y="392" width="5" height="35" fill="#000"/>
<rect x="1372" y="393" width="3" height="33" fill="#fff"/>
<rect x="1381" y="386" width="1" height="44" fill="#000"/>
<rect x="1379" y="393" width="5" height="24" fill="#000"/>
<rect x="1389" y="398" width="1" height="104" fill="#000"/>
<rect x="1387" y="417" width="5" height="32" fill="#000"/>
<rect x="1397" y="424" width="1" height="77" fill="#000"/>
<rect x="1395" y="449" width="5" height="52" fill="#000"/>
<rect x="1405" y="497" width="1" height="20" fill="#000"/>
<rect x="1403" y="498" width="5" height="10" fill="#000"/>
<rect x="1411" y="508" width="5" height="1" fill="#000"/>
<rect x="1304" y="489" width="148" height="8" fill="#00ff00"/>
<rect x="5" y="607" width="1" height="43" fill="#c0c0c0"/>
<rect x="13" y="606" width="1" height="44" fill="#c0c0c0"/>
<rect x="21" y="606" width="1" height="44" fill="#c0c0c0"/>
<rect x="29" y="606" width="1" height="44" fill="#c0c0c0"/>
<rect x="37" y="606" width="1" height="44" fill="#c0c0c0"/>
<rect x="45" y="606" width="1" height="44" fill="#c0c0c0"/>
<rect x="53" y="607" width="1" height="43" fill="#c0c0c0"/>
<rect x="61" y="608" width="1" height="42" fill="#c0c0c0"/>
<rect x="69" y="612" width="1" height="38" fill="#c0c0c0"/>
<rect x="77" y="618" width="1" height="32" fill="#c0c0c0"/>
<rect x="85" y="621" width="1" height="29" fill="#c0c0c0"/>
<rect x="93" y="625" width="1" height="25" fill="#c0c0c0"/>
<rect x="101" y="627" width="1" height="23" fill="#c0c0c0"/>
<rect x="109" y="623" width="1" height="27" fill="#c0c0c0"/>
<rect x="117" y="621" width="1" height="29" fill="#c0c0c0"/>
<rect x="125" y="622" width="1" height="28" fill="#c0c0c0"/>
<rect x="133" y="625" width="1" height="25" fill="#c0c0c0"/>
<rect x="141" y="629" width="1" height="21" fill="#c0c0c0"/>
<rect x="149" y="637" width="1" height="13" fill="#c0c0c0"/>
<rect x="157" y="641" width="1" height="9" fill="#c0c0c0"/>
<rect x="165" y="647" width="1" height="3" fill="#c0c0c0"/>
<rect x="173" y="649" width="1" height="1" fill="#c0c0c0"/>
<rect x="181" y="649" width="1" height="3" fill="#c0c0c0"/>
<rect x="189" y="649" width="1" height="7" fill="#c0c0c0"/>
<rect x="197" y="649" width="1" height="8" fill="#c0c0c0"/>
<rect x="205" y="649" width="1" height="20" fill="#c0c0c0"/>
<rect x="213" y="649" width="1" height="30" fill="#c0c0c0"/>
<rect x="221" y="649" width="1" height="37" fill="#c0c0c0"/>
<rect x="229" y="649" width="1" height="50" fill="#c0c0c0"/>
<rect x="237" y="649" width="1" height="63" fill="#c0c0c0"/>
<rect x="245" y="649" width="1" height="62" fill="#c0c0c0"/>
<rect x="253" y="649" width="1" height="61" fill="#c0c0c0"/>
<rect x="261" y="649" width="1" height="62" fill="#c0c0c0"/>
<rect x="269" y="649" width="1" height="61" fill="#c0c0c0"/>
<rect x="277" y="649" width="1" height="66" fill="#c0c0c0"/>
<rect x="285" y="649" width="1" height="67" fill="#c0c0c0"/>
<rect x="293" y="649" width="1" height="55" fill="#c0c0c0"/>
<rect x="301" y="649" width="1" height="44" fill="#c0c0c0"/>
<rect x="309" y="649" width="1" height="36" fill="#c0c0c0"/>
<rect x="317" y="649" width="1" height="28" fill="#c0c0c0"/>
<rect x="325" y="649" width="1" height="17" fill="#c0c0c0"/>
<rect x="333" y="649" width="1" height="10" fill="#c0c0c0"/>
<rect x="341" y="649" width="1" height="2" fill="#c0c0c0"/>
<rect x="349" y="642" width="1" height="8" fill="#c0c0c0"/>
<rect x="357" y="636" width="1" height="14" fill="#c0c0c0"/>
<rect x="365" y="629" width="1" height="21" fill="#c0c0c0"/>
<rect x="373" y="624" width="1" height="26" fill="#c0c0c0"/>
<rect x="381" y="620" width="1" height="30" fill="#c0c0c0"/>
<rect x="389" y="618" width="1" height="32" fill="#c0c0c0"/>
<rect x="397" y="617" width="1" height="33" fill="#c0c0c0"/>
<rect x="405" y="617" width="1" height="33" fill="#c0c0c0"/>
<rect x="413" y="617" width="1" height="33" fill="#c0c0c0"/>
<rect x="421" y="619" width="1" height="31" fill="#c0c0c0"/>
<rect x="429" y="620" width="1" height="30" fill="#c0c0c0"/>
<rect x="437" y="621" width="1" height="29" fill="#c0c0c0"/>
<rect x="445" y="619" width="1" height="31" fill="#c0c0c0"/>
<rect x="453" y="618" width="1" height="32" fill="#c0c0c0"/>
<rect x="461" y="619" width="1" height="31" fill="#c0c0c0"/>
<rect x="469" y="621" width="1" height="29" fill="#c0c0c0"/>
<rect x="477" y="621" width="1" height="29" fill="#c0c0c0"/>
<rect x="485" y="621" width="1" height="29" fill="#c0c0c0"/>
<rect x="493" y="625" width="1" height="25" fill="#c0c0c0"/>
<rect x="501" y="633" width="1" height="17" fill="#c0c0c0"/>
<rect x="509" y="639" width="1" height="11" fill="#c0c0c0"/>
<rect x="517" y="642" width="1" height="8" fill="#c0c0c0"/>
<rect x="525" y="643" width="1" height="7" fill="#c0c0c0"/>
<rect x="533" y="645" width="1" height="5" fill="#c0c0c0"/>
<rect x="541" y="641" width="1" height="9" fill="#c0c0c0"/>
<rect x="549" y="638" width="1" height="12" fill="#c0c0c0"/>
<rect x="557" y="636" width="1" height="14" fill="#c0c0c0"/>
<rect x="565" y="633" width="1" height="17" fill="#c0c0c0"/>
<rect x="573" y="631" width="1" height="19" fill="#c0c0c0"/>
<rect x="581" y="630" width="1" height="20" fill="#c0c0c0"/>
<rect x="589" y="629" width="1" height="21" fill="#c0c0c0"/>
<rect x="597" y="628" width="1" height="22" fill="#c0c0c0"/>
<rect x="605" y="631" width="1" height="19" fill="#c0c0c0"/>
<rect x="613" y="632" width="1" height="18" fill="#c0c0c0"/>
<rect x="621" y="632" width="1" height="18" fill="#c0c0c0"/>
<rect x="629" y="632" width="1" height="18" fill="#c0c0c0"/>
<rect x="637" y="635" width="1" height="15" fill="#c0c0c0"/>
<rect x="645" y="635" width="1" height="15" fill="#c0c0c0"/>
<rect x="653" y="638" width="1" height="12" fill="#c0c0c0"/>
<rect x="661" y="638" width="1" height="12" fill="#c0c0c0"/>
<rect x="669" y="637" width="1" height="13" fill="#c0c0c0"/>
<rect x="677" y="635" width="1" height="15" fill="#c0c0c0"/>
<rect x="685" y="634" width="1" height="16" fill="#c0c0c0"/>
<rect x="693" y="639" width="1" height="11" fill="#c0c0c0"/>
<rect x="701" y="643" width="1" height="7" fill="#c0c0c0"/>
<rect x="709" y="646" width="1" height="4" fill="#c0c0c0"/>
<rect x="717" y="648" width="1" height="2" fill="#c0c0c0"/>
<rect x="725" y="649" width="1" height="1" fill="#c0c0c0"/>
<rect x="733" y="649" width="1" height="1" fill="#c0c0c0"/>
<rect x="741" y="647" width="1" height="3" fill="#c0c0c0"/>
<rect x="749" y="645" width="1" height="5" fill="#c0c0c0"/>
<rect x="757" y="644" width="1" height="6" fill="#c0c0c0"/>
<rect x="765" y="641" width="1" height="9" fill="#c0c0c0"/>
<rect x="773" y="639" width="1" height="11" fill="#c0c0c0"/>
<rect x="781" y="639" width="1" height="11" fill="#c0c0c0"/>
<rect x="789" y="642" width="1" height="8" fill="#c0c0c0"/>
<rect x="797" y="644" width="1" height="6" fill="#c0c0c0"/>
<rect x="805" y="647" width="1" height="3" fill="#c0c0c0"/>
<rect x="813" y="649" width="1" height="1" fill="#c0c0c0"/>
<rect x="821" y="649" width="1" height="1" fill="#c0c0c0"/>
<rect x="829" y="649" width="1" height="1" fill="#c0c0c0"/>
<rect x="837" y="647" width="1" height="3" fill="#c0c0c0"/>
<rect x="845" y="646" width="1" height="4" fill="#c0c0c0"/>
<rect x="853" y="646" width="1" height="4" fill="#c0c0c0"/>
<rect x="861" y="646" width="1" height="4" fill="#c0c0c0"/>
<rect x="869" y="647" width="1" height="3" fill="#c0c0c0"/>
<rect x="877" y="647" width="1" height="3" fill="#c0c0c0"/>
<rect x="885" y="647" width="1" height="3" fill="#c0c0c0"/>
<rect x="893" y="649" width="1" height="7" fill="#c0c0c0"/>
<rect x="901" y="649" width="1" height="15" fill="#c0c0c0"/>
<rect x="909" y="649" width="1" height="23" fill="#c0c0c0"/>
<rect x="917" y="649" width="1" height="27" fill="#c0c0c0"/>
<rect x="925" y="649" width="1" height="35" fill="#c0c0c0"/>
<rect x="933" y="649" width="1" height="37" fill="#c0c0c0"/>
<rect x="941" y="649" width="1" height="42" fill="#c0c0c0"/>
<rect x="949" y="649" width="1" height="43" fill="#c0c0c0"/>
<rect x="957" y="649" width="1" height="44" fill="#c0c0c0"/>
<rect x="965" y="649" width="1" height="47" fill="#c0c0c0"/>
<rect x="973" y="649" width="1" height="49" fill="#c0c0c0"/>
<rect x="981" y="649" width="1" height="47" fill="#c0c0c0"/>
<rect x="989" y="649" width="1" height="43" fill="#c0c0c0"/>
<rect x="997" y="649" width="1" height="45" fill="#c0c0c0"/>
<rect x="1005" y="649" width="1" height="46" fill="#c0c0c0"/>
<rect x="1013" y="649" width="1" height="45" fill="#c0c0c0"/>
<rect x="1021" y="649" width="1" height="39" fill="#c0c0c0"/>
<rect x="1029" y="649" width="1" height="35" fill="#c0c0c0"/>
<rect x="1037" y="649" width="1" height="39" fill="#c0c0c0"/>
<rect x="1045" y="649" width="1" height="48" fill="#c0c0c0"/>
<rect x="1053" y="649" width="1" height="53" fill="#c0c0c0"/>
<rect x="1061" y="649" width="1" height="53" fill="#c0c0c0"/>
<rect x="1069" y="649" width="1" height="55" fill="#c0c0c0"/>
<rect x="1077" y="649" width="1" height="52" fill="#c0c0c0"/>
<rect x="1085" y="649" width="1" height="49" fill="#c0c0c0"/>
<rect x="1093" y="649" width="1" height="45" fill="#c0c0c0"/>
<rect x="1101" y="649" width="1" height="40" fill="#c0c0c0"/>
<rect x="1109" y="649" width="1" height="33" fill="#c0c0c0"/>
<rect x="1117" y="649" width="1" height="27" fill="#c0c0c0"/>
<rect x="1125" y="649" width="1" height="24" fill="#c0c0c0"/>
<rect x="1133" y="649" width="1" height="23" fill="#c0c0c0"/>
<rect x="1141" y="649" width="1" height="27" fill="#c0c0c0"/>
<rect x="1149" y="649" width="1" height="33" fill="#c0c0c0"/>
<rect x="1157" y="649" width="1" height="40" fill="#c0c0c0"/>
<rect x="1165" y="649" width="1" height="44" fill="#c0c0c0"/>
<rect x="1173" y="649" width="1" height="48" fill="#c0c0c0"/>
<rect x="1181" y="649" width="1" height="53" fill="#c0c0c0"/>
<rect x="1189" y="649" width="1" height="51" fill="#c0c0c0"/>
<rect x="1197" y="649" width="1" height="44" fill="#c0c0c0"/>
<rect x="1205" y="649" width="1" height="39" fill="#c0c0c0"/>
<rect x="1213" y="649" width="1" height="35" fill="#c0c0c0"/>
<rect x="1221" y="649" width="1" height="31" fill="#c0c0c0"/>
<rect x="1229" y="649" width="1" height="30" fill="#c0c0c0"/>
<rect x="1237" y="649" width="1" height="33" fill="#c0c0c0"/>
<rect x="1245" y="649" width="1" height="31" fill="#c0c0c0"/>
<rect x="1253" y="649" width="1" height="30" fill="#c0c0c0"/>
<rect x="1261" y="649" width="1" height="27" fill="#c0c0c0"/>
<rect x="1269" y="649" width="1" height="24" fill="#c0c0c0"/>
<rect x="1277" y="649" width="1" height="26" fill="#c0c0c0"/>
<rect x="1285" y="649" width="1" height="31" fill="#c0c0c0"/>
<rect x="1293" y="649" width="1" height="33" fill="#c0c0c0"/>
<rect x="1301" y="649" width="1" height="35" fill="#c0c0c0"/>
<rect x="1309" y="649" width="1" height="38" fill="#c0c0c0"/>
<rect x="1317" y="649" width="1" height="48" fill="#c0c0c0"/>
<rect x="1325" y="649" width="1" height="59" fill="#c0c0c0"/>
<rect x="1333" y="649" width="1" height="73" fill="#c0c0c0"/>
<rect x="1341" y="649" width="1" height="85" fill="#c0c0c0"/>
<rect x="1349" y="649" width="1" height="92" fill="#c0c0c0"/>
<rect x="1357" y="649" width="1" height="93" fill="#c0c0c0"/>
<rect x="1365" y="649" width="1" height="88" fill="#c0c0c0"/>
<rect x="1373" y="649" width="1" height="77" fill="#c0c0c0"/>
<rect x="1381" y="649" width="1" height="74" fill="#c0c0c0"/>
<rect x="1389" y="649" width="1" height="73" fill="#c0c0c0"/>
<rect x="1397" y="649" width="1" height="76" fill="#c0c0c0"/>
<rect x="1405" y="649" width="1" height="81" fill="#c0c0c0"/>
<rect x="1413" y="649" width="1" height="85" fill="#c0c0c0"/>
<polyline points="3.2,609.5 12.7,605.9 29.6,604.4 52.9,604.8 69.8,605.9 84.6,608.0 101.5,613.7 118.4,617.5 133.2,619.6 148.1,623.8 165.0,629.1 181.9,635.1 198.8,642.9 213.6,654.5 221.4,658.7 232.7,669.3 245.3,679.9 262.3,693.6 277.1,704.2 285.5,708.4 296.1,710.1 304.6,708.4 321.5,699.6 334.2,691.5 346.9,679.9 350.0,675.7 362.7,661.9 375.4,650.3 388.1,639.1 398.6,631.2 411.3,624.9 426.1,619.2 443.1,618.1 453.6,617.5 462.1,618.6 481.1,618.6 498.1,619.6 510.7,623.8 523.4,627.6 536.1,632.3 548.8,635.5 565.7,638.2 582.7,636.5 595.3,633.4 608.0,631.9 620.7,630.2 641.9,630.6 652.5,632.3 667.3,634.0 688.4,634.4 699.0,635.5 710.6,638.6 727.5,641.4 746.5,643.9 763.5,646.0 776.1,645.0 795.2,643.9 803.6,642.2 822.7,643.5 839.6,644.6 845.9,645.6 865.0,646.5 888.2,646.5 896.7,648.8 908.3,650.9 917.8,655.6 926.3,660.2 934.8,665.1 945.3,671.4 953.8,676.7 964.4,683.7 973.9,688.4 983.4,691.1 1000.3,693.6 1013.0,695.3 1025.7,693.6 1038.4,692.6 1053.2,693.2 1063.4,694.5 1083.5,697.2 1101.4,698.3 1117.0,696.0 1134.8,689.4 1150.5,682.7 1166.1,682.2 1184.0,686.0 1197.4,690.5 1215.2,693.4 1233.1,691.6 1250.9,686.7 1264.3,682.2 1277.7,679.3 1295.6,679.3 1313.5,680.0 1326.9,686.0 1340.2,696.0 1353.6,707.2 1367.0,717.3 1378.2,724.6 1391.6,729.1 1407.2,731.8 1413.5,732.4" fill="none" stroke="#ff0000" stroke-width="1" stroke-dasharray="3 3"/>
<line x1="0" y1="788.5" x2="1655" y2="788.5" stroke="#c0c0c0" stroke-width="1" stroke-dasharray="3 3" stroke-dashoffset="2"/>
<line x1="0" y1="839.5" x2="1655" y2="839.5" stroke="#c0c0c0" stroke-width="1" stroke-dasharray="3 3" stroke-dashoffset="2"/>
<line x1="0" y1="900.5" x2="1655" y2="900.5" stroke="#c0c0c0" stroke-width="1" stroke-dasharray="3 3" stroke-dashoffset="2"/>
<polyline points="0,816.7 5,809.3 13,809.3 21,809.3 29,806.2 37,804.0 45,806.2 53,812.1 61,815.3 69,821.6 77,838.9 85,829.0 93,836.4 101,830.5 109,810.4 117,815.3 125,826.3 133,834.7 141,840.0 149,854.4 157,847.0 165,855.4 173,844.2 181,852.7 189,851.2 197,847.0 205,872.4 213,874.5 221,873.2 229,885.5 237,888.7 245,855.2 253,856.9 261,861.6 269,859.0 277,867.5 285,863.9 293,836.4 301,836.4 309,837.5 317,835.1 325,827.3 333,830.5 341,826.7 349,820.3 357,824.1 365,820.3 373,820.3 381,821.4 389,821.4 397,823.1 405,824.1 413,823.1 421,829.0 429,825.8 437,824.1 445,815.7 453,825.2 461,823.5 469,829.0 477,825.8 485,822.5 493,836.8 501,850.2 509,851.2 517,844.2 525,838.5 533,841.7 541,826.7 549,825.6 557,827.3 565,821.4 573,823.1 581,824.1 589,824.1 597,822.5 605,836.2 613,834.3 621,830.5 629,825.8 637,841.1 645,832.6 653,840.0 661,833.7 669,830.1 677,824.1 685,827.9 693,845.9 701,848.0 709,848.0 717,853.1 725,841.1 733,839.4 741,828.4 749,830.1 757,833.7 765,825.2 773,826.3 781,829.0 789,847.0 797,843.6 805,845.3 813,850.6 821,842.1 829,834.1 837,832.2 845,831.1 853,831.1 861,839.4 869,837.5 877,839.4 885,839.4 893,874.5 901,873.2 909,877.0 917,870.3 925,880.2 933,861.6 941,871.1 949,860.1 957,863.3 965,867.1 973,869.6 981,855.4 989,849.5 997,863.3 1005,863.3 1013,853.1 1021,844.2 1029,845.3 1037,862.2 1045,872.4 1053,869.7 1061,859.0 1069,862.5 1077,854.7 1085,851.4 1093,848.5 1101,845.6 1109,840.7 1117,838.4 1125,842.9 1133,849.1 1141,859.0 1149,865.9 1157,870.3 1165,869.2 1173,870.8 1181,873.5 1189,858.5 1197,845.1 1205,843.3 1213,848.5 1221,845.1 1229,848.5 1237,860.3 1245,848.5 1253,851.4 1261,847.4 1269,843.3 1277,852.9 1285,861.4 1293,860.3 1301,861.9 1309,865.2 1317,879.3 1325,885.3 1333,890.2 1341,890.2 1349,890.2 1357,878.6 1365,863.0 1373,849.6 1381,855.2 1389,861.9 1397,871.9 1405,873.5 1413,873.0" fill="none" stroke="#1e90ff" stroke-width="1"/>
</g>
<g shape-rendering="crispEdges" stroke="#ff0000" fill="#ff0000" stroke-linecap="butt">
<line x1="1257.5" y1="264.0" x2="1346.2" y2="569.4" stroke-width="4"/>
<polygon points="1349.0,579.0 1340.9,568.9 1350.5,566.1" stroke="none"/>
<line x1="1349.0" y1="577.0" x2="1381.2" y2="397.8" stroke-width="4"/>
<polygon points="1383.0,388.0 1385.8,400.7 1376.0,398.9" stroke="none"/>
<line x1="1383.0" y1="392.0" x2="1425.9" y2="525.5" stroke-width="4"/>
<polygon points="1429.0,535.0 1420.6,525.1 1430.1,522.0" stroke="none"/>
<line x1="1348.0" y1="727.5" x2="1409.0" y2="727.5" stroke-width="3"/>
<polygon points="1418.0,727.5 1407.0,732.0 1407.0,723.0" stroke="none"/>
<line x1="1375.0" y1="841.0" x2="1411.1" y2="876.7" stroke-width="3"/>
<polygon points="1417.5,883.0 1406.5,878.5 1412.8,872.1" stroke="none"/>
</g>
<rect x="1478.5" y="508.5" width="110" height="24" fill="#fff" stroke="#1a1a1a" stroke-width="1" shape-rendering="crispEdges"/>
<rect x="1531.5" y="506.5" width="3" height="2" fill="#fff" stroke="#00e000" stroke-width="1" shape-rendering="crispEdges"/>
<text x="1480" y="527" font-size="20" fill="#00ff00" textLength="107" lengthAdjust="spacingAndGlyphs" font-weight="300">多空转折点</text>
<g font-size="9.3" fill="#000">
<text x="1661" y="31.7" textLength="33" lengthAdjust="spacingAndGlyphs">35643.0</text>
<text x="1661" y="64.7" textLength="33" lengthAdjust="spacingAndGlyphs">35513.5</text>
<text x="1661" y="97.7" textLength="33" lengthAdjust="spacingAndGlyphs">35380.5</text>
<text x="1661" y="130.7" textLength="33" lengthAdjust="spacingAndGlyphs">35251.0</text>
<text x="1661" y="163.7" textLength="33" lengthAdjust="spacingAndGlyphs">35121.5</text>
<text x="1661" y="196.7" textLength="33" lengthAdjust="spacingAndGlyphs">34992.0</text>
<text x="1661" y="229.7" textLength="33" lengthAdjust="spacingAndGlyphs">34862.5</text>
<text x="1661" y="262.7" textLength="33" lengthAdjust="spacingAndGlyphs">34733.0</text>
<text x="1661" y="295.7" textLength="33" lengthAdjust="spacingAndGlyphs">34603.5</text>
<text x="1661" y="327.7" textLength="33" lengthAdjust="spacingAndGlyphs">34474.0</text>
<text x="1661" y="360.7" textLength="33" lengthAdjust="spacingAndGlyphs">34344.5</text>
<text x="1661" y="393.7" textLength="33" lengthAdjust="spacingAndGlyphs">34211.5</text>
<text x="1661" y="426.7" textLength="33" lengthAdjust="spacingAndGlyphs">34082.0</text>
<text x="1661" y="459.7" textLength="33" lengthAdjust="spacingAndGlyphs">33952.5</text>
<text x="1661" y="492.7" textLength="33" lengthAdjust="spacingAndGlyphs">33823.0</text>
<text x="1661" y="525.7" textLength="33" lengthAdjust="spacingAndGlyphs">33693.5</text>
<text x="1661" y="558.7" textLength="33" lengthAdjust="spacingAndGlyphs">33564.0</text>
<text x="1661" y="591.7" textLength="33" lengthAdjust="spacingAndGlyphs">33434.5</text>
</g>
<rect x="1657" y="428" width="41" height="11" fill="#ff0000" shape-rendering="crispEdges"/>
<text x="1661" y="436.7" font-size="9.3" fill="#fff" textLength="33" lengthAdjust="spacingAndGlyphs">34044.8</text>
<rect x="1657" y="462" width="41" height="11" fill="#ff0000" shape-rendering="crispEdges"/>
<text x="1661" y="470.7" font-size="9.3" fill="#fff" textLength="33" lengthAdjust="spacingAndGlyphs">33911.2</text>
<rect x="1657" y="487" width="41" height="11" fill="#32cd32" shape-rendering="crispEdges"/>
<text x="1661" y="495.7" font-size="9.3" fill="#fff" textLength="33" lengthAdjust="spacingAndGlyphs">33813.0</text>
<rect x="1657" y="502" width="41" height="11" fill="#000000" shape-rendering="crispEdges"/>
<text x="1661" y="510.7" font-size="9.3" fill="#fff" textLength="33" lengthAdjust="spacingAndGlyphs">33751.0</text>
<rect x="1657" y="533" width="41" height="11" fill="#0000ff" shape-rendering="crispEdges"/>
<text x="1661" y="541.7" font-size="9.3" fill="#fff" textLength="33" lengthAdjust="spacingAndGlyphs">33632.3</text>
<rect x="1657" y="559" width="41" height="11" fill="#0000ff" shape-rendering="crispEdges"/>
<text x="1661" y="567.7" font-size="9.3" fill="#fff" textLength="33" lengthAdjust="spacingAndGlyphs">33530.1</text>
<g font-size="9.3" fill="#000">
<text x="1659.5" y="605" textLength="27.5" lengthAdjust="spacingAndGlyphs">128.67</text>
<text x="1659.5" y="651.8" textLength="17.5" lengthAdjust="spacingAndGlyphs">0.00</text>
<text x="1659.5" y="747" textLength="31" lengthAdjust="spacingAndGlyphs">-241.45</text>
<text x="1659.5" y="763.4" textLength="15" lengthAdjust="spacingAndGlyphs">100</text>
<text x="1659.5" y="791.3" textLength="10" lengthAdjust="spacingAndGlyphs">80</text>
<text x="1659.5" y="842.3" textLength="10" lengthAdjust="spacingAndGlyphs">50</text>
<text x="1659.5" y="903.3" textLength="10" lengthAdjust="spacingAndGlyphs">15</text>
<text x="1659.5" y="923" textLength="5" lengthAdjust="spacingAndGlyphs">0</text>
<polygon points="-0.3,36.2 7.3,36.2 3.5,31.8" fill="#000"/>
<text x="12" y="36.8" font-size="10" textLength="186" lengthAdjust="spacingAndGlyphs" xml:space="preserve">DJ30-,H4  33751.0 33751.0 33751.0 33751.0</text>
<text x="2" y="606.8" font-size="10" textLength="133" lengthAdjust="spacingAndGlyphs">MACD(12,26,9) -205.11 -199.35</text>
<text x="2" y="764.8" font-size="10" textLength="67" lengthAdjust="spacingAndGlyphs">RSI(14) 30.5476</text>
<text x="-4.5" y="938.2" font-size="9.6">12 Aug 2021</text>
<text x="59.5" y="938.2" font-size="9.6">13 Aug 20:00</text>
<text x="123.5" y="938.2" font-size="9.6">17 Aug 00:00</text>
<text x="187.5" y="938.2" font-size="9.6">18 Aug 08:00</text>
<text x="251.5" y="938.2" font-size="9.6">19 Aug 16:00</text>
<text x="315.5" y="938.2" font-size="9.6">22 Aug 23:00</text>
<text x="379.5" y="938.2" font-size="9.6">24 Aug 04:00</text>
<text x="443.5" y="938.2" font-size="9.6">25 Aug 12:00</text>
<text x="507.5" y="938.2" font-size="9.6">26 Aug 20:00</text>
<text x="571.5" y="938.2" font-size="9.6">30 Aug 00:00</text>
<text x="635.5" y="938.2" font-size="9.6">31 Aug 08:00</text>
<text x="699.5" y="938.2" font-size="9.6">1 Sep 16:00</text>
<text x="763.5" y="938.2" font-size="9.6">3 Sep 00:00</text>
<text x="827.5" y="938.2" font-size="9.6">6 Sep 04:00</text>
<text x="891.5" y="938.2" font-size="9.6">7 Sep 12:00</text>
<text x="955.5" y="938.2" font-size="9.6">8 Sep 20:00</text>
<text x="1019.5" y="938.2" font-size="9.6">10 Sep 04:00</text>
<text x="1083.5" y="938.2" font-size="9.6">13 Sep 08:00</text>
<text x="1147.5" y="938.2" font-size="9.6">14 Sep 16:00</text>
<text x="1211.5" y="938.2" font-size="9.6">16 Sep 00:00</text>
<text x="1275.5" y="938.2" font-size="9.6">17 Sep 08:00</text>
<text x="1339.5" y="938.2" font-size="9.6">20 Sep 12:00</text>
<text x="1403.5" y="938.2" font-size="9.6">21 Sep 20:00</text>
</g>
</svg>
<div id="tb"></div>
<svg id="tbs" width="1702" height="25" viewBox="0 0 1702 25">
<rect x="0" y="0" width="1702" height="21" fill="#f0f0f0"/>
<rect x="0" y="21" width="1702" height="1" fill="#a0a0a0"/>
<rect x="0" y="22" width="1702" height="1" fill="#696969"/>
<rect x="0" y="23" width="1702" height="1" fill="#b4b4b4"/>
<rect x="0" y="24" width="1702" height="1" fill="#ffffff"/>
<rect x="-3" y="1.5" width="6.5" height="9" fill="#fff" stroke="#a89a84" stroke-width="1"/>
<line x1="4.2" y1="14" x2="7.6" y2="17.2" stroke="#c89a30" stroke-width="2.6" stroke-linecap="round"/>
<circle cx="0.8" cy="9.9" r="4.2" fill="#d2e6f7" stroke="#5b93dc" stroke-width="1.4"/>
<rect x="16" y="1" width="1" height="18" fill="#a0a0a0"/>
<path d="M27.3 1.7H34.7L37.6 4.6V14.7H27.3Q26.5 14.7 26.5 13.9V2.5Q26.5 1.7 27.3 1.7Z" fill="#fff" stroke="#6e6e6e" stroke-width="1"/>
<path d="M34.7 1.7V4.6H37.6" fill="#ededed" stroke="#6e6e6e" stroke-width="0.9"/>
<path d="M28.5 3.9H30.6" stroke="#8a8a8a" stroke-width="1.3"/><path d="M28.5 7.5H33.2M28.5 9.4H33.2M28.5 11.4H31" stroke="#9a9a9a" stroke-width="0.9"/>
<path d="M34.2 7.2H38V11.1H41.9V14.7H38V18.8H34.2V14.7H30.1V11.1H34.2Z" fill="#2be02b" stroke="#12961a" stroke-width="1" stroke-linejoin="round"/>
<text x="45" y="12.2" font-size="12" fill="#000" font-family='"Liberation Sans","Noto Sans CJK SC",sans-serif' textLength="36" lengthAdjust="spacingAndGlyphs">新订单</text>
<defs><linearGradient id="gbk" x1="0" y1="0" x2="1" y2="1"><stop offset="0" stop-color="#fbe24a"/><stop offset="0.55" stop-color="#eab92c"/><stop offset="1" stop-color="#c08a1e"/></linearGradient></defs>
<path d="M98.4 2.2L108 7.9L109 10.6L100.8 16.8L93.1 10.9Z" fill="url(#gbk)" stroke="#a06c14" stroke-width="1" stroke-linejoin="round"/>
<path d="M108.3 9L101.2 14.6L101.6 16" fill="none" stroke="#e6d79a" stroke-width="1.1"/>
<path d="M93.6 10.9L100.6 15.8" fill="none" stroke="#b47a18" stroke-width="1.2"/>
<path d="M123.4 1.9L131.4 1.4L133.5 3.9V10H123.4Z" fill="#1a9af6" stroke="#1579d8" stroke-width="0.8"/>
<path d="M123.8 2.2L126.2 4.4V10" fill="none" stroke="#9fd6ff" stroke-width="1"/>
<path d="M128 5.3L133 4.8M128 6.8L133 6.4" stroke="#e8f6ff" stroke-width="0.9"/>
<defs><linearGradient id="gcl" x1="0" y1="0" x2="0" y2="1"><stop offset="0" stop-color="#ffffff"/><stop offset="1" stop-color="#c9d8ee"/></linearGradient></defs>
<path d="M123.6 16.6C120.4 16.6 120.6 12.4 123.6 12.4C123.8 9.8 127.2 9.2 128.4 10.9C130.2 8.8 133.6 9.8 133.6 12.2C137.4 11.8 137.8 16.6 134.4 16.6Z" fill="url(#gcl)" stroke="#5f86c4" stroke-width="1"/>
<g fill="none" stroke-width="1.2">
<path d="M157.1 0.6A7.8 7.8 0 0 0 157.1 16.2" stroke="#86a8e6"/>
<path d="M157.1 3.1A5.3 5.3 0 0 0 157.1 13.7" stroke="#6f96e0"/>
<path d="M157.1 0.6A7.8 7.8 0 0 1 164.9 8.4" stroke="#a9c9bf"/>
<path d="M157.1 3.1A5.3 5.3 0 0 1 162.4 8.4" stroke="#8fbfae"/>
</g>
<path d="M157.6 8.4H164.9A7.8 7.8 0 0 1 157.6 16.2Z" fill="#86cf86" opacity="0.8"/>
<path d="M164.9 8.4A7.8 7.8 0 0 1 157.1 16.2M162.4 8.4A5.3 5.3 0 0 1 157.6 13.7" fill="none" stroke="#3fa63f" stroke-width="1.2"/>
<rect x="156.6" y="8.4" width="1.5" height="8.4" fill="#22a322"/>
<circle cx="157.1" cy="8.2" r="1.8" fill="#2458c8"/>
<path d="M176.4 8.2L183 16.6L191.8 7.8Z" fill="#f8e256" stroke="#d2a622" stroke-width="1" stroke-linejoin="round"/>
<ellipse cx="184" cy="6" rx="7.9" ry="2.5" fill="#4fa7e2" stroke="#2f86b8" stroke-width="0.8"/>
<path d="M180.3 5.4C180.3 -0.2 187.7 -0.2 187.7 5.4C186 6.6 182 6.6 180.3 5.4Z" fill="#6cbcee" stroke="#2f86b8" stroke-width="0.7"/>
<circle cx="188.5" cy="12.8" r="4.2" fill="#e32a12" stroke="#b81c08" stroke-width="0.8"/>
<rect x="187" y="11.3" width="3" height="3" fill="#fff"/>
<text x="197.9" y="12.2" font-size="12" fill="#000" font-family='"Liberation Sans","Noto Sans CJK SC",sans-serif' textLength="46" lengthAdjust="spacingAndGlyphs">自动交易</text>
<rect x="252" y="1" width="1" height="18" fill="#a0a0a0"/>
<rect x="256" y="2" width="3" height="1" fill="#b4b4b4"/>
<rect x="256" y="4" width="3" height="1" fill="#b4b4b4"/>
<rect x="256" y="6" width="3" height="1" fill="#b4b4b4"/>
<rect x="256" y="8" width="3" height="1" fill="#b4b4b4"/>
<rect x="256" y="10" width="3" height="1" fill="#b4b4b4"/>
<rect x="256" y="12" width="3" height="1" fill="#b4b4b4"/>
<rect x="256" y="14" width="3" height="1" fill="#b4b4b4"/>
<rect x="256" y="16" width="3" height="1" fill="#b4b4b4"/>
<rect x="256" y="18" width="3" height="1" fill="#b4b4b4"/>
<path d="M269.5 3V17M267 14.5H280M268 5.5L269.5 3L271 5.5M278.5 13L280.5 14.5L278.5 16" fill="none" stroke="#505050" stroke-width="1"/>
<path d="M275.5 3V12M275.5 3.5H278M273 11.5H275.5" fill="none" stroke="#1a9a1a" stroke-width="1.6"/>
<rect x="290" y="1" width="1" height="18" fill="#a0a0a0"/>
<rect x="291" y="0" width="25" height="20" fill="#f8f8f8"/>
<path d="M297.5 3V17M295 14.5H308M296 5.5L297.5 3L299 5.5M306.5 13L308.5 14.5L306.5 16" fill="none" stroke="#505050" stroke-width="1"/>
<path d="M304.5 1V13" stroke="#505050" stroke-width="1"/>
<rect x="302.5" y="3" width="4" height="7.5" fill="#22b522" stroke="#0d7a0d" stroke-width="1"/>
<path d="M326.5 3V17M324 14.5H337M325 5.5L326.5 3L328 5.5M335.5 13L337.5 14.5L335.5 16" fill="none" stroke="#505050" stroke-width="1"/>
<path d="M326.5 12.5C328 6.5 331.5 5 333 6.5C334.5 7.5 336 9.5 337.5 10.5" fill="none" stroke="#1a9a1a" stroke-width="1.4"/>
<rect x="347" y="1" width="1" height="18" fill="#a0a0a0"/>
<line x1="365.5" y1="10.5" x2="370.5" y2="15.5" stroke="#c89a30" stroke-width="2.6" stroke-linecap="round"/>
<circle cx="362" cy="7" r="5.2" fill="#d6eafa" stroke="#4f8ad8" stroke-width="1.4"/>
<path d="M359.3 7H364.7M362 4.3V9.7" stroke="#2f6fd0" stroke-width="1.7" fill="none"/>
<line x1="393.5" y1="10.5" x2="398.5" y2="15.5" stroke="#c89a30" stroke-width="2.6" stroke-linecap="round"/>
<circle cx="390" cy="7" r="5.2" fill="#d6eafa" stroke="#4f8ad8" stroke-width="1.4"/>
<path d="M387.3 7H392.7" stroke="#2f6fd0" stroke-width="1.7" fill="none"/>
<rect x="412" y="1" width="8" height="7.5" fill="#3aa23a"/><rect x="420.5" y="1" width="8" height="7.5" fill="#2a63d8"/>
<rect x="412" y="9" width="8" height="7.5" fill="#2a63d8"/><rect x="420.5" y="9" width="8" height="7.5" fill="#3aa23a"/>
<rect x="413.5" y="4" width="5" height="3" fill="#eef3ff"/>
<rect x="422" y="4" width="5" height="3" fill="#eef3ff"/>
<rect x="413.5" y="12" width="5" height="3" fill="#eef3ff"/>
<rect x="422" y="12" width="5" height="3" fill="#eef3ff"/>
<rect x="437" y="1" width="1" height="18" fill="#a0a0a0"/>
<rect x="442" y="0" width="25" height="20" fill="#f8f8f8"/>
<path d="M449.5 3V17M447 14.5H460M448 5.5L449.5 3L451 5.5M458.5 13L460.5 14.5L458.5 16" fill="none" stroke="#505050" stroke-width="1"/>
<path d="M455.5 5.5L460 8.8L455.5 12Z" fill="#7fe07f" stroke="#1a9a1a" stroke-width="1"/>
<rect x="470" y="1" width="1" height="18" fill="#a0a0a0"/>
<rect x="471" y="0" width="24" height="20" fill="#f8f8f8"/>
<path d="M478.5 3V17M476 14.5H489M477 5.5L478.5 3L480 5.5M487.5 13L489.5 14.5L487.5 16" fill="none" stroke="#505050" stroke-width="1"/>
<path d="M484.5 3V13" stroke="#2a63d8" stroke-width="1.3"/>
<path d="M490 8.5H486M487.8 6.5L485.5 8.5L487.8 10.5" fill="none" stroke="#d02a10" stroke-width="1.3"/>
<rect x="499" y="1" width="1" height="18" fill="#a0a0a0"/>
<path d="M509.5 1.5H515L518 4.5V13.5H509.5Z" fill="#fafafa" stroke="#8a8a8a" stroke-width="1"/>
<path d="M512 5V9M511 6H514" stroke="#707070" stroke-width="0.9" fill="none"/>
<path d="M517.2 7.5H520.8V11.2H524.5V14.8H520.8V18.5H517.2V14.8H513.5V11.2H517.2Z" fill="#2fd02f" stroke="#0a8a0a" stroke-width="1"/>
<polygon points="531,9 536,9 533.5,12" fill="#000"/>
<circle cx="555" cy="9" r="7.3" fill="#2f77e0" stroke="#1a52b0" stroke-width="1"/>
<circle cx="555" cy="9" r="5" fill="#f4f8ff"/>
<path d="M555 5.5V9.3H558" fill="none" stroke="#404040" stroke-width="1.1"/>
<polygon points="570,9 575,9 572.5,12" fill="#000"/>
<rect x="586.5" y="2.5" width="15" height="12.5" fill="#f4f8ff" stroke="#3a78d8" stroke-width="1"/>
<rect x="586.5" y="2.5" width="15" height="2.5" fill="#3a78d8"/>
<path d="M588.5 8.5L591 7.5L593 8.3L596 6.8L599.5 6.5" fill="none" stroke="#c03020" stroke-width="1.2"/>
<path d="M588.5 13L591 11.5L593 12.6L596 11L599.5 12.5" fill="none" stroke="#1a9a1a" stroke-width="1.2"/>
<polygon points="609,9 614,9 611.5,12" fill="#000"/>
<rect x="620" y="1" width="1" height="18" fill="#a0a0a0"/>
<rect x="624" y="2" width="3" height="1" fill="#b4b4b4"/>
<rect x="624" y="4" width="3" height="1" fill="#b4b4b4"/>
<rect x="624" y="6" width="3" height="1" fill="#b4b4b4"/>
<rect x="624" y="8" width="3" height="1" fill="#b4b4b4"/>
<rect x="624" y="10" width="3" height="1" fill="#b4b4b4"/>
<rect x="624" y="12" width="3" height="1" fill="#b4b4b4"/>
<rect x="624" y="14" width="3" height="1" fill="#b4b4b4"/>
<rect x="624" y="16" width="3" height="1" fill="#b4b4b4"/>
<rect x="624" y="18" width="3" height="1" fill="#b4b4b4"/>
<rect x="630" y="0" width="25" height="20" fill="#f8f8f8"/>
<path d="M638 2.5V14L640.8 11.3L643 16L644.8 15.2L642.7 10.6L646.2 10.4Z" fill="#404040"/>
<path d="M670.5 2V16M663 9.5H678" stroke="#505050" stroke-width="1" fill="none"/>
<rect x="669.5" y="8.5" width="2" height="2" fill="#f0f0f0"/>
<rect x="687" y="1" width="1" height="18" fill="#a0a0a0"/>
<path d="M704.5 3V16" stroke="#505050" stroke-width="1"/>
<path d="M727 9.5H739" stroke="#505050" stroke-width="1"/>
<path d="M754.5 15.3L767.2 3.8" stroke="#505050" stroke-width="1.2"/>
<path d="M781 12.5L793 3.5M783.5 15L795 6.5" stroke="#505050" stroke-width="1.1" fill="none"/>
<path d="M785 6L783 15M789 3.5L787 13M793 2L791 10" stroke="#707070" stroke-width="0.8" fill="none"/>
<text x="791" y="17.5" font-size="6.5" font-weight="bold" fill="#404040">E</text>
<line x1="810" y1="2.5" x2="823" y2="2.5" stroke="#606060" stroke-width="1" stroke-dasharray="1 1" shape-rendering="crispEdges"/>
<line x1="810" y1="5.5" x2="823" y2="5.5" stroke="#606060" stroke-width="1" stroke-dasharray="1 1" shape-rendering="crispEdges"/>
<line x1="810" y1="8.5" x2="823" y2="8.5" stroke="#606060" stroke-width="1" stroke-dasharray="1 1" shape-rendering="crispEdges"/>
<line x1="810" y1="13.5" x2="823" y2="13.5" stroke="#606060" stroke-width="1" stroke-dasharray="1 1" shape-rendering="crispEdges"/>
<text x="819" y="17.5" font-size="6.5" font-weight="bold" fill="#404040">F</text>
<text x="840.3" y="14" font-size="11.5" font-weight="bold" fill="#606060" textLength="8.5" lengthAdjust="spacingAndGlyphs">A</text>
<rect x="866.5" y="2.5" width="12" height="13" fill="none" stroke="#707070" stroke-width="1" stroke-dasharray="1 1" shape-rendering="crispEdges"/>
<text x="868.5" y="14" font-size="11" font-weight="bold" fill="#606060" textLength="8" lengthAdjust="spacingAndGlyphs">T</text>
<path d="M894 6.5L897.5 3L901 6.5Z M901 11.5L904.5 15L908 11.5Z" fill="#404040"/>
<path d="M897 11L899 13L903.5 7" fill="none" stroke="#404040" stroke-width="1.4"/>
<polygon points="915,9 920,9 917.5,12" fill="#000"/>
<rect x="926" y="1" width="1" height="18" fill="#a0a0a0"/>
<rect x="930" y="2" width="3" height="1" fill="#b4b4b4"/>
<rect x="930" y="4" width="3" height="1" fill="#b4b4b4"/>
<rect x="930" y="6" width="3" height="1" fill="#b4b4b4"/>
<rect x="930" y="8" width="3" height="1" fill="#b4b4b4"/>
<rect x="930" y="10" width="3" height="1" fill="#b4b4b4"/>
<rect x="930" y="12" width="3" height="1" fill="#b4b4b4"/>
<rect x="930" y="14" width="3" height="1" fill="#b4b4b4"/>
<rect x="930" y="16" width="3" height="1" fill="#b4b4b4"/>
<rect x="930" y="18" width="3" height="1" fill="#b4b4b4"/>
<rect x="1077" y="0" width="24" height="20" fill="#f8f8f8"/>
<rect x="1076" y="1" width="1" height="18" fill="#a0a0a0"/>
<text x="941.5" y="13" font-size="10" fill="#505050" textLength="12.6" lengthAdjust="spacingAndGlyphs">M1</text>
<text x="969.4" y="13" font-size="10" fill="#505050" textLength="13" lengthAdjust="spacingAndGlyphs">M5</text>
<text x="995.7" y="13" font-size="10" fill="#505050" textLength="17.6" lengthAdjust="spacingAndGlyphs">M15</text>
<text x="1023.5" y="13" font-size="10" fill="#505050" textLength="17.7" lengthAdjust="spacingAndGlyphs">M30</text>
<text x="1054.5" y="13" font-size="10" fill="#505050" textLength="11.5" lengthAdjust="spacingAndGlyphs">H1</text>
<text x="1081.2" y="13" font-size="10" fill="#505050" textLength="13" lengthAdjust="spacingAndGlyphs">H4</text>
<text x="1110.6" y="13" font-size="10" fill="#505050" textLength="11.6" lengthAdjust="spacingAndGlyphs">D1</text>
<text x="1138" y="13" font-size="10" fill="#505050" textLength="14.3" lengthAdjust="spacingAndGlyphs">W1</text>
<text x="1164.5" y="13" font-size="10" fill="#505050" textLength="14.8" lengthAdjust="spacingAndGlyphs">MN</text>
<rect x="1187" y="1" width="1" height="18" fill="#a0a0a0"/>
<line x1="1650.5" y1="13.5" x2="1655" y2="9" stroke="#2f6fd0" stroke-width="2.2" stroke-linecap="round"/>
<circle cx="1657.6" cy="6.4" r="3.6" fill="#f4f8ff" stroke="#2f6fd0" stroke-width="1.6"/>
<path d="M1674.5 10.5C1674.5 6.5 1686 6.5 1686 10.5C1686 13.5 1682 14.5 1679.5 14.2L1677 17L1677.3 13.8C1675.5 13.2 1674.5 12 1674.5 10.5Z" fill="#f2f2f2" stroke="#b0b0b0" stroke-width="1"/>
<circle cx="1688.5" cy="8" r="8.3" fill="#e03020"/>
<text x="1685.3" y="12.3" font-size="12" fill="#fff">1</text>
</svg>
<div id="tp">
<div class="wm"></div>
<div class="wbg"></div>
<div class="redl"></div><div class="redr"></div>
<div class="tab sell"></div><div class="tab buy"></div>
<div class="spin"><div class="sb l"><i class="dn"></i></div><div class="sb r"><i class="up"></i></div></div>
</div>
<svg id="tps" width="230" height="110" viewBox="0 0 230 110" fill="#fff">
<rect x="4" y="68" width="44" height="1" fill="#9a0000"/><rect x="4" y="69" width="44" height="1" fill="#ff8a8a"/>
<rect x="171" y="68" width="44" height="1" fill="#9a0000"/><rect x="171" y="69" width="44" height="1" fill="#ff8a8a"/>
<text x="12.3" y="60.7" font-size="12.4" textLength="25.5" lengthAdjust="spacingAndGlyphs">SELL</text>
<text x="180.6" y="60.7" font-size="12.4" textLength="22.8" lengthAdjust="spacingAndGlyphs">BUY</text>
<text x="116.5" y="60" font-size="12.2" fill="#000" textLength="23.4" lengthAdjust="spacingAndGlyphs">1.00</text>
<text x="16.7" y="96.7" font-size="13.2" font-weight="bold" textLength="34.4" lengthAdjust="spacingAndGlyphs">33749</text>
<text x="126.7" y="96.7" font-size="13.2" font-weight="bold" textLength="34.1" lengthAdjust="spacingAndGlyphs">33763</text>
<rect x="55.8" y="93" width="4" height="3.7" rx="0.8"/>
<rect x="166.3" y="93" width="4" height="3.7" rx="0.8"/>
<text x="62.3" y="96.7" font-size="34.5" textLength="16.2" lengthAdjust="spacingAndGlyphs">5</text>
<text x="173.3" y="96.7" font-size="34.5" textLength="16.2" lengthAdjust="spacingAndGlyphs">5</text>
</svg>
</body></html>
